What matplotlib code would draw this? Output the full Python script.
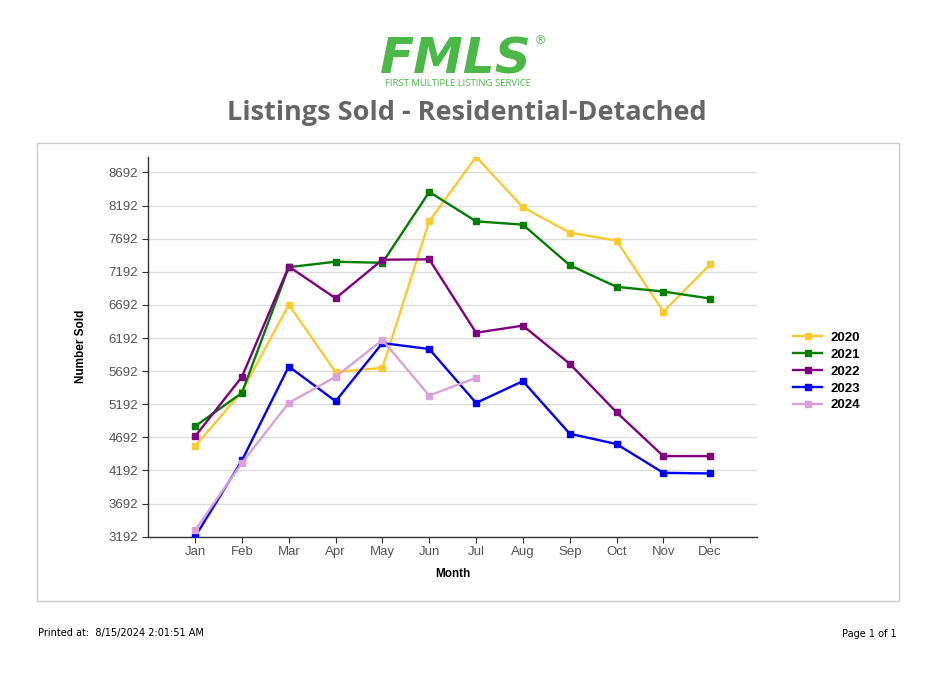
import matplotlib
matplotlib.use("Agg")
import matplotlib.pyplot as plt
from matplotlib.patches import Rectangle

months = ["Jan", "Feb", "Mar", "Apr", "May", "Jun", "Jul", "Aug", "Sep", "Oct", "Nov", "Dec"]
sold_2020 = [4560, 5383, 6697, 5677, 5742, 7954, 8928, 8166, 7783, 7662, 6591, 7303]
sold_2021 = [4859, 5364, 7262, 7344, 7328, 8398, 7954, 7904, 7292, 6965, 6894, 6788]
sold_2022 = [4708, 5606, 7272, 6792, 7374, 7380, 6272, 6379, 5803, 5071, 4409, 4409]
sold_2023 = [3192, 4344, 5762, 5238, 6116, 6026, 5212, 5541, 4747, 4591, 4156, 4147]
sold_2024 = [3288, 4308, 5212, 5606, 6162, 5323, 5591]
y_ticks = list(range(3192, 8693, 500))

series = [
    ("2020", sold_2020, "#ffc933"),
    ("2021", sold_2021, "#008000"),
    ("2022", sold_2022, "#800080"),
    ("2023", sold_2023, "#0000ff"),
    ("2024", sold_2024, "#dda0dd"),
]

plt.rcParams["font.family"] = ["Liberation Sans", "DejaVu Sans"]

fig = plt.figure(figsize=(9.53, 6.79), dpi=100)
W, H = 953, 679

# chart frame
fig.patches.append(Rectangle((37 / W, 1 - 601 / H), (899 - 37) / W, (601 - 143) / H,
                             transform=fig.transFigure, fill=False,
                             edgecolor="#cccccc", linewidth=1))

ax = fig.add_axes([148.3 / W, 1 - 536.7 / H, (757 - 148.3) / W, (536.7 - 156.7) / H])
for name, vals, color in series:
    ax.plot(range(len(vals)), vals, color=color, linewidth=1.7, marker="s",
            markersize=4.5, label=name, zorder=3)

ax.set_xlim(-1, 12)
ax.set_ylim(3192, 8930)
ax.set_yticks(y_ticks)
ax.set_xticks(range(12))
ax.set_xticklabels(months)
ax.tick_params(axis="both", colors="#333333", labelcolor="#555555", labelsize=9.5,
               length=4, width=0.8)
ax.tick_params(axis="x", pad=3)
ax.grid(axis="y", color="#dddddd", linewidth=1)
ax.set_axisbelow(True)
for s in ("top", "right"):
    ax.spines[s].set_visible(False)
for s in ("left", "bottom"):
    ax.spines[s].set_color("#333333")
    ax.spines[s].set_linewidth(1)

ax.set_xlabel("Month", fontsize=8.5, fontweight="bold", labelpad=7)
ax.set_ylabel("Number Sold", fontsize=8.5, fontweight="bold", labelpad=15)

leg = ax.legend(loc="center left", bbox_to_anchor=(1.04, 0.435), frameon=False,
                prop={"weight": "bold", "size": 9.5}, handlelength=2.2,
                labelspacing=0.36, handletextpad=0.6)

# logo and title
fig.text(456 / W, 1 - 73 / H, "FMLS", color="#4cb848", fontsize=36, fontweight="bold",
         style="italic", ha="center", va="baseline", family="DejaVu Sans")
fig.text(540 / W, 1 - 41 / H, "\u00ae", color="#4cb848", fontsize=9, ha="center", va="center")
fig.text(458 / W, 1 - 84 / H, "FIRST MULTIPLE LISTING SERVICE", color="#4cb848",
         fontsize=6.8, ha="center", va="center", family="Open Sans")
fig.text(467 / W, 1 - 113 / H, "Listings Sold - Residential-Detached", color="#666666",
         fontsize=19.5, fontweight="bold", ha="center", va="center", family="Open Sans")

# footer
fig.text(38 / W, 1 - 633 / H, "Printed at:  8/15/2024 2:01:51 AM", fontsize=7,
         ha="left", va="center", color="#000000", family="DejaVu Sans")
fig.text(897 / W, 1 - 634 / H, "Page 1 of 1", fontsize=7, ha="right", va="center",
         color="#000000", family="DejaVu Sans")

fig.savefig("out.png", dpi=100)
